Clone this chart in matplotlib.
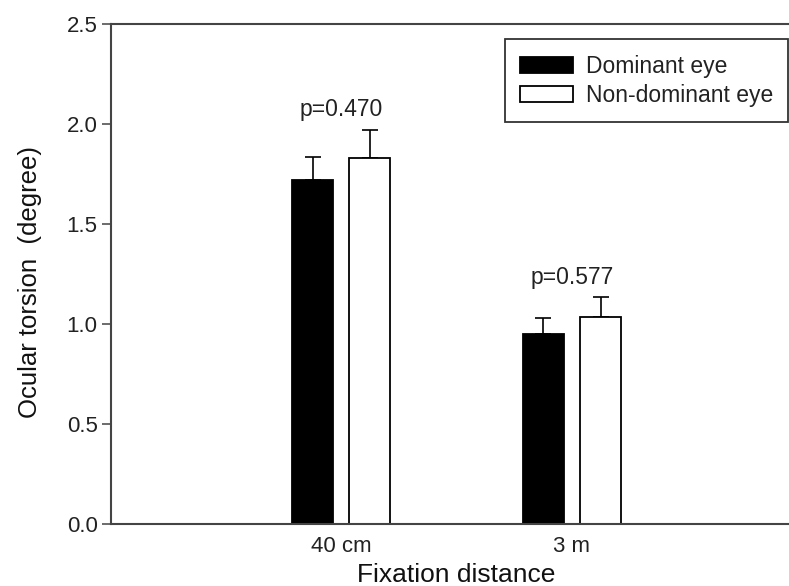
import matplotlib
matplotlib.use("Agg")
import matplotlib.pyplot as plt
import numpy as np

plt.rcParams['font.family'] = ['Liberation Sans', 'DejaVu Sans']

categories = ["40 cm", "3 m"]
dominant = [1.72, 0.95]
dominant_err = [0.115, 0.08]
nondominant = [1.83, 1.035]
nondominant_err = [0.14, 0.10]
p_labels = ["p=0.470", "p=0.577"]
p_y = [2.07, 1.23]
series_names = ["Dominant eye", "Non-dominant eye"]
yticks = [0.0, 0.5, 1.0, 1.5, 2.0, 2.5]

W, H = 789, 586
fig = plt.figure(figsize=(W / 100, H / 100), dpi=100)
left = 110.7 / W
bottom = (H - 523.5) / H
top = (H - 24) / H
right = (340.8 + 2 * 230.9) / W
ax = fig.add_axes([left, bottom, right - left, top - bottom])

x = np.arange(len(categories))
bw = 0.178
off = 0.124
ax.bar(x - off, dominant, bw, color='black', edgecolor='black', linewidth=1.3,
       label=series_names[0], zorder=2)
ax.bar(x + off, nondominant, bw, color='white', edgecolor='black', linewidth=1.3,
       label=series_names[1], zorder=2)
ax.errorbar(x - off, dominant, yerr=[np.zeros(len(x)), dominant_err], fmt='none',
            ecolor='black', elinewidth=1.2, capsize=5.5, capthick=1.2, zorder=1)
ax.errorbar(x + off, nondominant, yerr=[np.zeros(len(x)), nondominant_err], fmt='none',
            ecolor='black', elinewidth=1.2, capsize=5.5, capthick=1.2, zorder=1)

for xi, txt, yy in zip(x, p_labels, p_y):
    ax.text(xi, yy, txt, ha='center', va='center', fontsize=16.5, color='#222222')

ax.set_xlim(-1, 2)
ax.set_ylim(0, 2.5)
ax.set_yticks(yticks)
ax.set_yticklabels([f"{v:.1f}" for v in yticks])
ax.set_xticks(x)
ax.set_xticklabels(categories)
ax.tick_params(axis='y', direction='out', length=6.5, width=1.1, pad=3,
               labelsize=16, color='#444444', labelcolor='#222222')
ax.tick_params(axis='x', length=0, pad=9, labelsize=16, labelcolor='#222222')

for s in ax.spines.values():
    s.set_color('#444444')
    s.set_linewidth(1.5)

ax.set_xlabel("Fixation distance", fontsize=19, color='#111111', labelpad=4)
ax.set_ylabel("Ocular torsion  (degree)", fontsize=18.5, color='#111111')
ax.yaxis.set_label_coords(-0.0993, 0.4825)

leg = ax.legend(loc='upper left', bbox_to_anchor=(504.7 / W, 1 - 39.3 / H),
                bbox_transform=fig.transFigure, borderaxespad=0, fontsize=16.5,
                handlelength=2.3, handleheight=0.68, handletextpad=0.55,
                labelspacing=0.26, borderpad=0.68, fancybox=False, framealpha=1)
leg.get_frame().set_edgecolor('#333333')
leg.get_frame().set_linewidth(1.3)
for t in leg.get_texts():
    t.set_color('#222222')

fig.savefig("out.png", dpi=100)
